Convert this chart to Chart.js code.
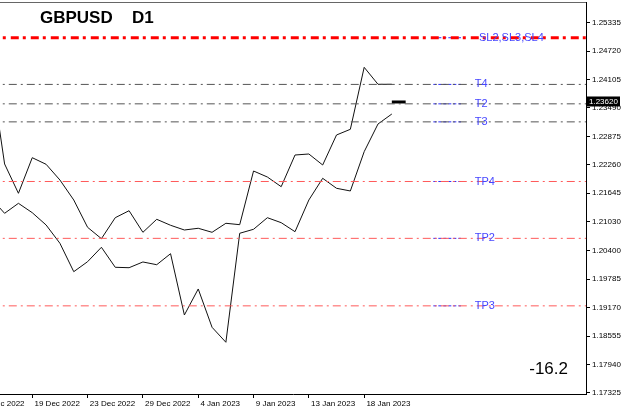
<!DOCTYPE html>
<html>
<head>
<meta charset="utf-8">
<script src="https://cdn.jsdelivr.net/npm/chart.js@4/dist/chart.umd.min.js"></script>
<style>
  html, body { margin: 0; padding: 0; background: #fff; }
  canvas { display: block; }
</style>
</head>
<body>
<canvas id="chart" width="625" height="413"></canvas>
<script>
// daily bars, index 0 = 17 Dec 2022 (index -1 is just off the left edge)
const upperLine = [1.24312, 1.22279, 1.21645, 1.22415, 1.22272, 1.21932, 1.21500, 1.20909, 1.20663, 1.21117,
  1.21268, 1.20801, 1.21082, 1.20953, 1.20851, 1.20888, 1.20801, 1.20996, 1.20966, 1.22127,
  1.21997, 1.21788, 1.22473, 1.22495, 1.22257, 1.22906, 1.23029, 1.24370, 1.24003, 1.24003]
const lowerLine = [1.21543, 1.21212, 1.21428, 1.21225, 1.20959, 1.20563, 1.19949, 1.20165, 1.20477, 1.20044,
  1.20035, 1.20159, 1.20100, 1.20338, 1.19012, 1.19575, 1.18746, 1.18422, 1.20780, 1.20866,
  1.21117, 1.21009, 1.20814, 1.21500, 1.21969, 1.21753, 1.21695, 1.22545, 1.23144, 1.23360]

const levelNames = ['SL2,SL3,SL4', 'T4', 'T2', 'T3', 'TP4', 'TP2', 'TP3']
const levelValues = [1.2501, 1.2400, 1.2358, 1.2319, 1.2190, 1.2067, 1.1921]

const lastPrice = 1.2362
const lastPriceLabel = '1.23620'

const priceTicks = ['1.25335', '1.24720', '1.24105', '1.23490', '1.22875', '1.22260', '1.21645',
  '1.21030', '1.20400', '1.19785', '1.19170', '1.18555', '1.17940', '1.17325']
const dateTicks = ['15 Dec 2022', '19 Dec 2022', '23 Dec 2022', '29 Dec 2022', '4 Jan 2023', '9 Jan 2023', '13 Jan 2023', '18 Jan 2023']
const dateTickBars = [-2, 2, 6, 10, 14, 18, 22, 26]

const symbolName = 'GBPUSD'
const periodName = 'D1'
const infoValue = '-16.2'

const X_MIN = -0.333
const X_MAX = 42.04

function levelStyle(name) {
  if (name.startsWith('SL')) return { color: '#ff0000', width: 3, dash: [8, 4, 3, 5] }
  if (name.startsWith('TP')) return { color: '#ff5a5a', width: 1, dash: [8, 4, 2, 4] }
  return { color: '#555555', width: 1, dash: [8, 4, 2, 4] }
}

const toPoints = arr => arr.map((v, i) => ({ x: i - 1, y: v }))

const datasets = []
levelNames.forEach((name, i) => {
  const s = levelStyle(name)
  datasets.push({
    data: [{ x: -1, y: levelValues[i] }, { x: 43, y: levelValues[i] }],
    borderColor: s.color, borderWidth: s.width, borderDash: s.dash
  })
  datasets.push({
    data: [{ x: 31, y: levelValues[i] }, { x: 33, y: levelValues[i] }],
    borderColor: '#3030ff', borderWidth: 1, borderDash: [3, 2]
  })
})
datasets.push({ data: toPoints(upperLine), borderColor: '#111', borderWidth: 1 })
datasets.push({ data: toPoints(lowerLine), borderColor: '#111', borderWidth: 1 })
datasets.push({
  data: [{ x: 28, y: lastPrice }, { x: 29, y: lastPrice }],
  borderColor: '#000', borderWidth: 3
})

const overlay = {
  id: 'overlay',
  afterDatasetsDraw(chart) {
    const { ctx, chartArea, scales } = chart
    ctx.save()
    // level labels
    ctx.font = '11px "Liberation Sans", Arial, sans-serif'
    ctx.fillStyle = '#4646ff'
    ctx.textBaseline = 'middle'
    levelNames.forEach((name, i) => {
      const x = scales.x.getPixelForValue(name.startsWith('SL') ? 34.3 : 34)
      ctx.fillText(name, x, scales.y.getPixelForValue(levelValues[i]))
    })
    // title
    ctx.fillStyle = '#000'
    ctx.textBaseline = 'alphabetic'
    ctx.font = 'bold 17px "Liberation Sans", Arial, sans-serif'
    ctx.fillText(symbolName, 40, 23)
    ctx.fillText(periodName, 132, 23)
    // info value
    ctx.font = '17px "Liberation Sans", Arial, sans-serif'
    ctx.textAlign = 'right'
    ctx.fillText(infoValue, chartArea.right - 18, 374)
    ctx.restore()
  },
  afterDraw(chart) {
    const { ctx, chartArea, scales } = chart
    ctx.save()
    // top frame
    ctx.strokeStyle = '#666'
    ctx.lineWidth = 1
    ctx.beginPath()
    ctx.moveTo(0, chartArea.top + 0.5)
    ctx.lineTo(chartArea.right, chartArea.top + 0.5)
    ctx.stroke()
    // last price box on the axis
    const y = scales.y.getPixelForValue(lastPrice)
    ctx.fillStyle = '#000'
    ctx.fillRect(chartArea.right + 1, y - 5.5, 33, 10)
    ctx.fillStyle = '#fff'
    ctx.font = '8px "Liberation Sans", Arial, sans-serif'
    ctx.textBaseline = 'middle'
    ctx.fillText(lastPriceLabel, chartArea.right + 3, y)
    ctx.restore()
  }
}

new Chart(document.getElementById('chart'), {
  type: 'line',
  data: { datasets },
  options: {
    responsive: false,
    animation: false,
    layout: { autoPadding: false, padding: { top: 2, left: 0, right: 0, bottom: 0 } },
    elements: { point: { radius: 0 }, line: { tension: 0 } },
    plugins: { legend: { display: false }, tooltip: { enabled: false } },
    scales: {
      x: {
        type: 'linear',
        min: X_MIN,
        max: X_MAX,
        afterBuildTicks: s => { s.ticks = dateTickBars.map(v => ({ value: v })) },
        afterFit: s => { s.height = 19; s.paddingLeft = 0; s.paddingRight = 0 },
        grid: { drawOnChartArea: false, tickLength: 4, color: '#000' },
        border: { color: '#000' },
        ticks: {
          autoSkip: false, maxRotation: 0, align: 'start', padding: 1,
          color: '#000',
          font: { family: '"Liberation Sans", Arial, sans-serif', size: 8 },
          callback: v => ' ' + dateTicks[dateTickBars.indexOf(v)]
        }
      },
      y: {
        position: 'right',
        min: 1.17303,
        max: 1.25783,
        afterBuildTicks: s => { s.ticks = priceTicks.map(t => ({ value: parseFloat(t) })) },
        afterFit: s => { s.width = 39; s.paddingTop = 0; s.paddingBottom = 0 },
        grid: { drawOnChartArea: false, tickLength: 4, color: '#000' },
        border: { color: '#000' },
        ticks: {
          autoSkip: false, padding: 2, color: '#000',
          font: { family: '"Liberation Sans", Arial, sans-serif', size: 8 },
          callback: (v, i) => priceTicks[i]
        }
      }
    }
  },
  plugins: [overlay]
})
</script>
</body>
</html>
